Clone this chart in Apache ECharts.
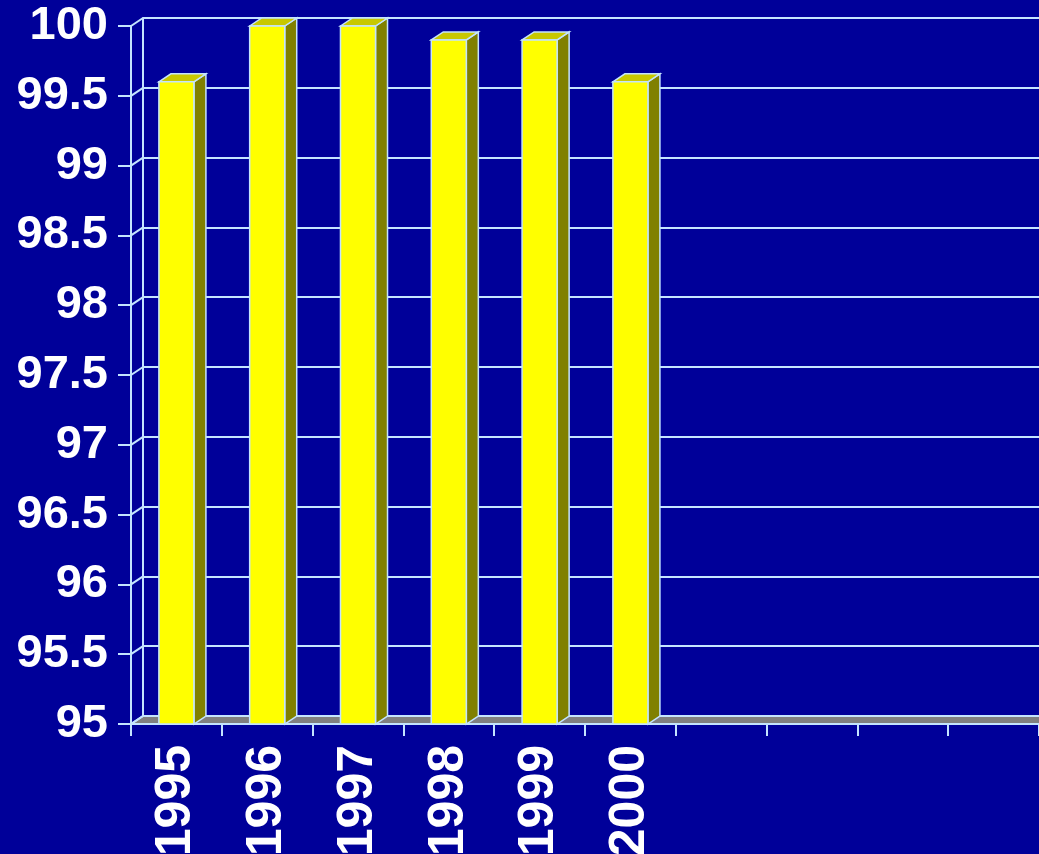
<!DOCTYPE html>
<html>
<head>
<meta charset="utf-8">
<script src="https://cdn.jsdelivr.net/npm/echarts@6/dist/echarts.min.js"></script>
<style>
html,body{margin:0;padding:0;background:#000099;}
#chart{width:1039px;height:854px;}
</style>
</head>
<body>
<div id="chart"></div>
<script>
const categories = ['1995','1996','1997','1998','1999','2000','','','',''];
const values = [99.6, 100, 100, 99.9, 99.9, 99.6];
const yTicks = [95, 95.5, 96, 96.5, 97, 97.5, 98, 98.5, 99, 99.5, 100];
const yMin = 95, yMax = 100, yStep = 0.5;

const DX = 12, DY = -8;
const LINE = '#C4E4FF';
const FONT = '"Liberation Sans", Arial, sans-serif';

const chart = echarts.init(document.getElementById('chart'));

function edgeX(api, v) {
  const c = api.coord([0, v]);
  return c[0] - api.size([1, 0])[0] / 2;
}

chart.setOption({
  backgroundColor: '#000099',
  animation: false,
  grid: [
    {left: 131, right: 0, top: 26, bottom: 130, containLabel: false, outerBoundsMode: 'none'},
    {left: 131 + DX, right: 0, top: 26 + DY, bottom: 130 - DY, containLabel: false, outerBoundsMode: 'none'}
  ],
  xAxis: [
    {
      type: 'category', gridIndex: 0, data: categories,
      axisLine: {show: true, lineStyle: {color: LINE, width: 2}},
      axisTick: {show: true, length: 12, interval: 0, lineStyle: {color: LINE, width: 2}},
      axisLabel: {
        interval: 0, rotate: 90, margin: 21, color: '#ffffff',
        fontSize: 50, fontWeight: 'bold', fontFamily: FONT
      },
      splitLine: {show: false}
    },
    {
      type: 'category', gridIndex: 1, data: categories, show: false
    }
  ],
  yAxis: [
    {
      type: 'value', gridIndex: 0, min: yMin, max: yMax, interval: yStep,
      axisLine: {show: true, lineStyle: {color: LINE, width: 2}},
      axisTick: {show: true, length: 13, lineStyle: {color: LINE, width: 2}},
      axisLabel: {
        margin: 23, color: '#ffffff', fontSize: 47, fontWeight: 'bold', fontFamily: FONT
      },
      splitLine: {show: false}
    },
    {
      type: 'value', gridIndex: 1, min: yMin, max: yMax, interval: yStep,
      axisLine: {show: true, lineStyle: {color: LINE, width: 2}},
      axisTick: {show: false},
      axisLabel: {show: false},
      splitLine: {show: true, lineStyle: {color: LINE, width: 2}}
    }
  ],
  series: [
    {
      // floor
      type: 'custom', xAxisIndex: 0, yAxisIndex: 0, z: 3,
      data: [[0, yMin]],
      renderItem: function (params, api) {
        const x0 = edgeX(api, yMin);
        const y0 = api.coord([0, yMin])[1];
        const x1 = params.coordSys.x + params.coordSys.width;
        return {
          type: 'polygon',
          shape: {points: [[x0, y0], [x0 + DX, y0 + DY], [x1 + DX, y0 + DY], [x1, y0]]},
          style: {fill: '#808080', stroke: LINE, lineWidth: 2}
        };
      }
    },
    {
      // left wall links from front ticks to back wall
      type: 'custom', xAxisIndex: 0, yAxisIndex: 0, z: 4,
      data: yTicks.map(v => [0, v]),
      renderItem: function (params, api) {
        const v = api.value(1);
        const x0 = edgeX(api, v);
        const y0 = api.coord([0, v])[1];
        return {
          type: 'line',
          shape: {x1: x0, y1: y0, x2: x0 + DX, y2: y0 + DY},
          style: {stroke: LINE, lineWidth: 2}
        };
      }
    },
    {
      // 3D bars
      type: 'custom', xAxisIndex: 0, yAxisIndex: 0, z: 5,
      data: values.map((v, i) => [i, v]),
      renderItem: function (params, api) {
        const i = api.value(0);
        const v = api.value(1);
        const top = api.coord([i, v]);
        const base = api.coord([i, yMin]);
        const w = api.size([1, 0])[0] * 0.386;
        const xl = top[0] - w / 2, xr = top[0] + w / 2;
        const yt = top[1], yb = base[1];
        return {
          type: 'group',
          children: [
            {
              type: 'polygon',
              shape: {points: [[xr, yt], [xr + DX, yt + DY], [xr + DX, yb + DY], [xr, yb]]},
              style: {fill: '#808000', stroke: LINE, lineWidth: 1.5}
            },
            {
              type: 'polygon',
              shape: {points: [[xl, yt], [xl + DX, yt + DY], [xr + DX, yt + DY], [xr, yt]]},
              style: {fill: '#C8C800', stroke: LINE, lineWidth: 1.5}
            },
            {
              type: 'rect',
              shape: {x: xl, y: yt, width: w, height: yb - yt},
              style: {fill: '#FFFF00', stroke: LINE, lineWidth: 1.5}
            }
          ]
        };
      }
    }
  ]
});
</script>
</body>
</html>
